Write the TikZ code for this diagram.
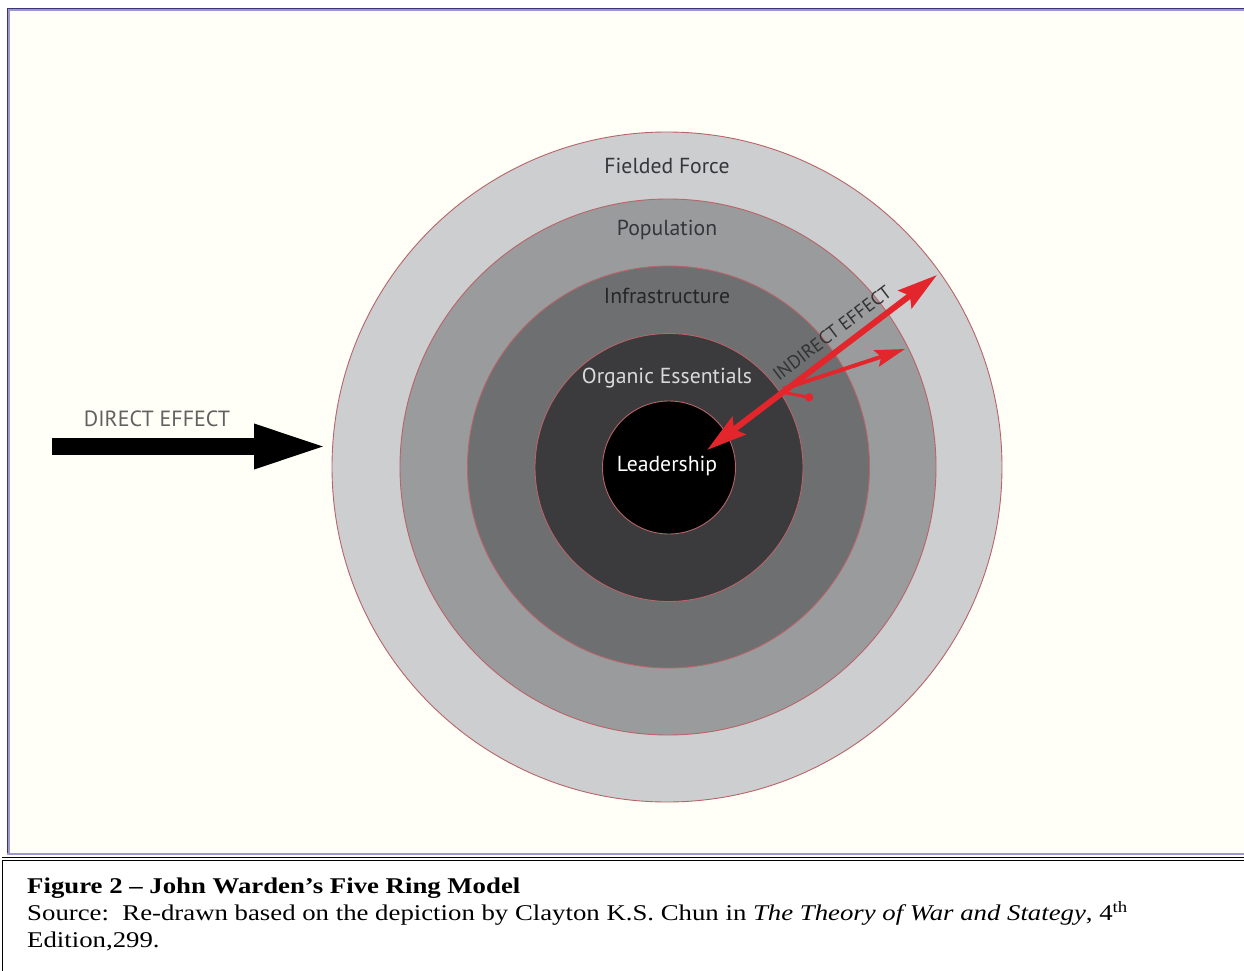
\documentclass[tikz,border=0pt]{standalone}
\usepackage{fontspec}
\setmainfont{Liberation Serif}
\newfontfamily\ringfont{PT Sans}
\usetikzlibrary{arrows.meta}

\definecolor{framenavy}{HTML}{3B3573}
\definecolor{framelav}{HTML}{9C98CC}
\definecolor{ringA}{HTML}{CDCED0}
\definecolor{ringB}{HTML}{9A9B9D}
\definecolor{ringC}{HTML}{6E6F71}
\definecolor{ringD}{HTML}{3B3A3C}
\definecolor{ringedge}{HTML}{B8646A}
\definecolor{effectred}{HTML}{E3262C}
\definecolor{labeldark}{HTML}{36363A}

\tikzset{
  ring/.style={circle, draw=ringedge, line width=0.9pt, inner sep=0pt, minimum size=#1},
  ringlabel/.style={font=\ringfont\fontsize{21.7}{24}\selectfont, inner sep=0pt},
  redarrow/.style={draw=effectred, line width=6pt},
  captext/.style={anchor=base west, inner sep=0pt, xscale=1.19, transform shape},
}

\begin{document}
\begin{tikzpicture}[x=1pt, y=-1pt]
  \useasboundingbox (0,0) rectangle (1244,971);
  \fill[white] (0,0) rectangle (1244,971);

  % figure frame
  \fill[white!97!yellow] (8,9) rectangle (1244,854);
  \draw[framelav, line width=2pt] (9,854) -- (9,10.5) -- (1244,10.5);
  \draw[framenavy, line width=1.6pt] (7.3,855) -- (7.3,8.5) -- (1244,8.5);
  \draw[framelav, line width=1.8pt] (7.3,854) -- (1244,854);

  % caption box rules
  \draw[black, line width=1pt] (2,857.6) -- (1244,857.6);
  \draw[black, line width=1pt] (2,860.4) -- (1244,860.4);
  \draw[black, line width=1.6pt] (2.3,860) -- (2.3,971);

  % the five rings
  \node[ring=670pt, fill=ringA] (fielded) at (667,467) {};
  \node[ring=536pt, fill=ringB] (population) at (668,467) {};
  \node[ring=402pt, fill=ringC] (infra) at (668.5,467) {};
  \node[ring=268pt, fill=ringD] (organic) at (669,467.5) {};
  \node[ring=133pt, fill=black] (leader) at (669,467.5) {};

  % ring labels
  \node[ringlabel, text=labeldark] (lblF) at (667,166) {Fielded Force};
  \node[ringlabel, text=labeldark] (lblP) at (667,230) {Population};
  \node[ringlabel, text=black!85] (lblI) at (667,296) {Infrastructure};
  \node[ringlabel, text=black!15] (lblO) at (667,378) {Organic Essentials};
  \node[ringlabel, text=white] (lblL) at (667,466) {Leadership};

  % direct effect
  \node[font=\ringfont\fontsize{22}{24}\selectfont, text=black!62, inner sep=0pt] (direct) at (157,419) {DIRECT EFFECT};
  \coordinate (dstart) at (52,446.5);
  \coordinate (dtip) at (329,446.5);
  \draw[line width=17pt, -{Triangle[length=75pt, width=40pt]}] (dstart) -- (dtip);

  % indirect effect
  \coordinate (ilow) at (707,450);
  \coordinate (ihigh) at (937,275);
  \coordinate (bstart) at (783,389);
  \coordinate (bend) at (905,349);
  \coordinate (sstart) at (781,392);
  \coordinate (send) at (813,398);
  \draw[redarrow, {Stealth[length=40pt, width=22pt, inset=6pt]}-{Stealth[length=40pt, width=22pt, inset=6pt]}] (ilow) -- (ihigh);
  \draw[draw=effectred, line width=4pt, -{Stealth[length=30pt, width=17pt, inset=5pt]}] (bstart) -- (bend);
  \draw[draw=effectred, line width=3pt, -{Circle[length=8pt]}] (sstart) -- (send);
  \node[font=\ringfont\fontsize{18.8}{20}\selectfont, text=black!80, rotate=37.3, inner sep=0pt] (indirect) at (832,333) {INDIRECT EFFECT};

  % caption
  \node[captext, font=\fontsize{22.5}{27}\selectfont\bfseries] (capT) at (27,893.5) {Figure 2 – John Warden’s Five Ring Model};
  \node[captext, font=\fontsize{22.5}{27}\selectfont] (capS) at (27,920.5) {Source:\ \ Re-drawn based on the depiction by Clayton K.S. Chun in \textit{The Theory of War and Stategy}, 4\textsuperscript{th}};
  \node[captext, font=\fontsize{22.5}{27}\selectfont] (capE) at (27,947.5) {Edition,299.};
\end{tikzpicture}
\end{document}
